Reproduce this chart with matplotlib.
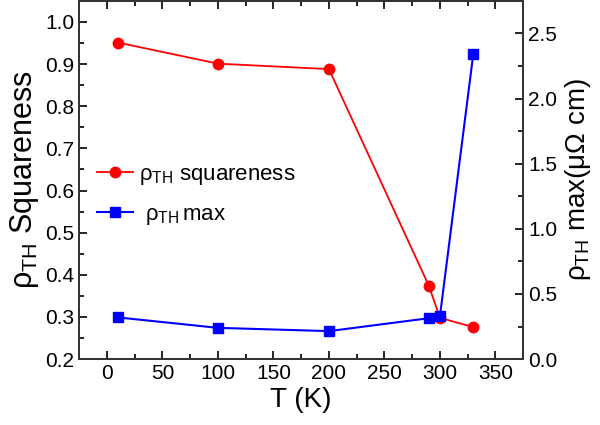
import numpy as np
import matplotlib
matplotlib.use("Agg")
import matplotlib.pyplot as plt
from matplotlib.ticker import MultipleLocator

plt.rcParams['font.family'] = ['Liberation Sans', 'DejaVu Sans']
plt.rcParams['mathtext.fontset'] = 'custom'
plt.rcParams['mathtext.rm'] = 'Liberation Sans'
plt.rcParams['mathtext.it'] = 'Liberation Sans'
plt.rcParams['mathtext.bf'] = 'Liberation Sans:bold'

# data
T = [10, 100, 200, 290, 300, 330]
squareness = [0.951, 0.901, 0.888, 0.374, 0.298, 0.276]
rho_max = [0.32, 0.24, 0.215, 0.314, 0.33, 2.34]

fig = plt.figure(figsize=(6, 4.25), dpi=100)
ax = fig.add_axes([0.132, 0.155, 0.74, 0.843])
ax2 = ax.twinx()

l1, = ax.plot(T, squareness, color='red', marker='o', ms=7.5, lw=1.3,
              mec='red', label=r'$\rho_{\mathrm{TH}}$ squareness')
l2, = ax2.plot(T, rho_max, color='blue', marker='s', ms=7, lw=1.5,
               mec='blue', label=r' $\rho_{\mathrm{TH}}\,$max')

ax.set_xlim(-25, 375)
ax.set_ylim(0.2, 1.05)
ax2.set_ylim(0, 2.75)

ax.xaxis.set_major_locator(MultipleLocator(50))
ax.xaxis.set_minor_locator(MultipleLocator(25))
ax.yaxis.set_major_locator(MultipleLocator(0.1))
ax.yaxis.set_minor_locator(MultipleLocator(0.05))
ax2.yaxis.set_major_locator(MultipleLocator(0.5))
ax2.yaxis.set_minor_locator(MultipleLocator(0.25))

ax.tick_params(which='both', direction='in', top=True, right=False, labelsize=15, width=1.2)
ax.tick_params(which='major', length=6)
ax.tick_params(which='minor', length=3.5)
ax2.tick_params(which='both', direction='in', labelsize=15, width=1.2)
ax2.tick_params(which='major', length=6)
ax2.tick_params(which='minor', length=3.5)

for a in (ax, ax2):
    for s in a.spines.values():
        s.set_linewidth(1.3)
        s.set_color('#333333')

ax.set_xlabel('T (K)', fontsize=20, labelpad=3)
ax.set_ylabel(r'$\rho_{\mathrm{TH}}$ Squareness', fontsize=22, labelpad=3)
ax2.set_ylabel(r'$\rho_{\mathrm{TH}}$ max($\mu\Omega$ cm)', fontsize=20, labelpad=4)

ax.legend(handles=[l1, l2], loc='center left', bbox_to_anchor=(0.02, 0.457),
          borderaxespad=0, frameon=False, fontsize=16, handlelength=1.6,
          handletextpad=0.3, labelspacing=0.75)

fig.savefig('out.png', dpi=100)
